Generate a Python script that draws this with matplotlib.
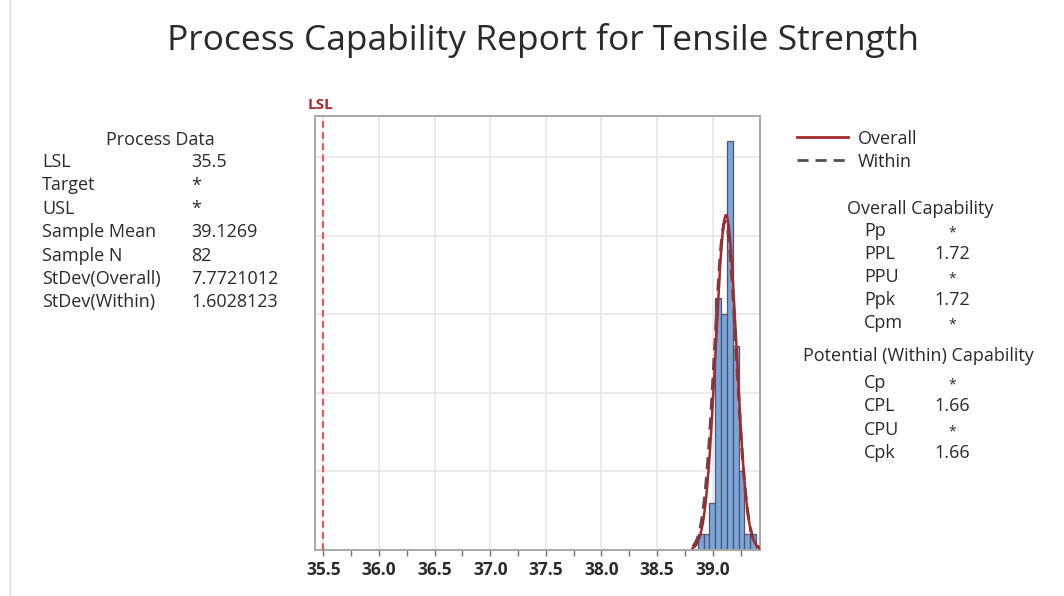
import numpy as np
import matplotlib
matplotlib.use("Agg")
import matplotlib.pyplot as plt
from matplotlib.lines import Line2D

# ---------------- data ----------------
bin_start = 38.865
bin_width = 0.0525
bar_heights = [1, 1, 3, 16, 15, 26, 13, 5, 1, 1]

lsl = 35.5
overall_mean = 39.12
within_mean = 39.113
overall_sigma = 0.093
within_sigma = 0.097
overall_peak = 21.3
within_peak = 20.9

x_ticks = [35.5, 36.0, 36.5, 37.0, 37.5, 38.0, 38.5, 39.0]

process_labels = ["LSL", "Target", "USL", "Sample Mean", "Sample N",
                  "StDev(Overall)", "StDev(Within)"]
process_values = ["35.5", "*", "*", "39.1269", "82", "7.7721012", "1.6028123"]

overall_labels = ["Pp", "PPL", "PPU", "Ppk", "Cpm"]
overall_values = ["*", "1.72", "*", "1.72", "*"]
within_labels = ["Cp", "CPL", "CPU", "Cpk"]
within_values = ["*", "1.66", "*", "1.66"]

# ---------------- style ----------------
FONT = ["Open Sans", "DejaVu Sans"]
plt.rcParams["font.family"] = FONT
TXT = "#2a2a2a"
BAR = "#7aa6dc"
BAR_EDGE = "#4d5566"
RED = "#a8282c"
GRAY = "#505050"

W, H = 1064, 596
fig = plt.figure(figsize=(W / 100, H / 100), dpi=100)

def fx(px):
    return px / W

def fy(py):
    return 1 - py / H

ax = fig.add_axes([fx(315), fy(550), fx(760) - fx(315), fy(116) - fy(550)])

edges = bin_start + bin_width * np.arange(len(bar_heights) + 1)
ax.bar(edges[:-1], bar_heights, width=bin_width, align="edge",
       color=BAR, edgecolor=BAR_EDGE, linewidth=0.9, zorder=2)

xs = np.linspace(38.82, 39.42, 500)
y_over = overall_peak * np.exp(-0.5 * ((xs - overall_mean) / overall_sigma) ** 2)
y_with = within_peak * np.exp(-0.5 * ((xs - within_mean) / within_sigma) ** 2)
ax.plot(xs, y_with, color=GRAY, lw=2.2, ls=(0, (4, 2.5)), zorder=3)
ax.plot(xs, y_over, color=RED, lw=1.8, zorder=4)

ax.axvline(lsl, color="#e05a5a", lw=1.6, ls=(0, (3, 2)), zorder=3)

ax.set_xlim(35.425, 39.425)
ax.set_ylim(0, 27.6)
ax.set_xticks(x_ticks)
ax.set_xticklabels([f"{t:.1f}" for t in x_ticks])
ax.set_xticks(np.arange(35.75, 39.3, 0.5), minor=True)
ax.set_yticks([5, 10, 15, 20, 25])
ax.tick_params(axis="y", left=False, labelleft=False)
ax.tick_params(axis="x", which="both", length=4, color="#707070", width=1,
               direction="out", labelsize=12.5, labelcolor=TXT, pad=4)
for lab in ax.get_xticklabels():
    lab.set_fontweight("bold")
ax.grid(True, which="major", color="#e6e6e6", lw=1.1, zorder=0)
ax.set_axisbelow(True)
for s in ax.spines.values():
    s.set_color("#a8a8a8")
    s.set_linewidth(1.4)

fig.text(fx(308), fy(105), "LSL", color=RED, fontsize=11, fontweight="bold",
         ha="left", va="center")

# title
fig.text(fx(543), fy(40), "Process Capability Report for Tensile Strength",
         fontsize=25.5, color=TXT, ha="center", va="center")

# left faint border line
fig.add_artist(Line2D([fx(10), fx(10)], [0, 1], color="#dadada", lw=1))

# process data
fs = 13
fig.text(fx(160), fy(140), "Process Data", fontsize=fs, color=TXT,
         ha="center", va="center")
y0, dy = 162, 23.4
for i, (l, v) in enumerate(zip(process_labels, process_values)):
    yy = fy(y0 + i * dy)
    fig.text(fx(42), yy, l, fontsize=fs, color=TXT, ha="left", va="center")
    fig.text(fx(191), yy, v, fontsize=fs, color=TXT, ha="left", va="center")

# legend
fig.add_artist(Line2D([fx(797), fx(848)], [fy(137), fy(137)], color=RED, lw=2))
fig.add_artist(Line2D([fx(797), fx(848)], [fy(160), fy(160)], color=GRAY, lw=2,
                      ls=(0, (4, 2.5))))
fig.text(fx(858), fy(139), "Overall", fontsize=fs, color=TXT, ha="left", va="center")
fig.text(fx(858), fy(162), "Within", fontsize=fs, color=TXT, ha="left", va="center")

# overall capability
fig.text(fx(920), fy(209), "Overall Capability", fontsize=fs, color=TXT,
         ha="center", va="center")
y0 = 231
for i, (l, v) in enumerate(zip(overall_labels, overall_values)):
    yy = fy(y0 + i * 23)
    fig.text(fx(864), yy, l, fontsize=fs, color=TXT, ha="left", va="center")
    if v == "*":
        fig.text(fx(952), yy - 0.004, v, fontsize=fs - 3, color=TXT, ha="center", va="center")
    else:
        fig.text(fx(934), yy, v, fontsize=fs, color=TXT, ha="left", va="center")

fig.text(fx(918), fy(356), "Potential (Within) Capability", fontsize=fs,
         color=TXT, ha="center", va="center")
y0 = 383
for i, (l, v) in enumerate(zip(within_labels, within_values)):
    yy = fy(y0 + i * 23.3)
    fig.text(fx(864), yy, l, fontsize=fs, color=TXT, ha="left", va="center")
    if v == "*":
        fig.text(fx(952), yy - 0.004, v, fontsize=fs - 3, color=TXT, ha="center", va="center")
    else:
        fig.text(fx(934), yy, v, fontsize=fs, color=TXT, ha="left", va="center")

fig.savefig("out.png", dpi=100)
